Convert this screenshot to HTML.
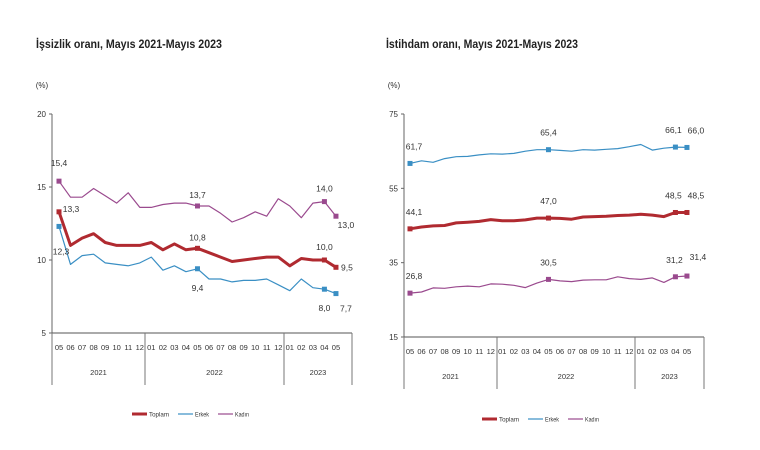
<!DOCTYPE html>
<html><head><meta charset="utf-8"><style>
html,body{margin:0;padding:0;background:#fff;width:760px;height:450px;overflow:hidden}
svg{font-family:"Liberation Sans",sans-serif}
</style></head><body>
<svg id="s" width="760" height="450" xmlns="http://www.w3.org/2000/svg"></svg>
<script>
var S=document.getElementById('s'),h='';
var C={t:'#b02a30',e:'#3a8fc4',k:'#9a4a8e'};
function txt(x,y,t,sz,anc,w,col,tl){h+='<text x="'+x+'" y="'+y+'" font-size="'+(sz||8)+'" text-anchor="'+(anc||'middle')+'"'+(w?' font-weight="bold"':'')+(tl?' textLength="'+tl+'" lengthAdjust="spacingAndGlyphs"':'')+' fill="'+(col||'#333')+'">'+t+'</text>';}
function line(a,b,c,d,col,w){h+='<line x1="'+a+'" y1="'+b+'" x2="'+c+'" y2="'+d+'" stroke="'+(col||'#555')+'" stroke-width="'+(w||1)+'"/>';}
var months=['05','06','07','08','09','10','11','12','01','02','03','04','05','06','07','08','09','10','11','12','01','02','03','04','05'];
function chart(o){
 var ax=o.ax,x0=o.x0,st=11.54;
 function Y(v){return o.yTop+(o.vTop-v)*(o.yBot-o.yTop)/(o.vTop-o.vBot);}
 function X(i){return x0+i*st;}
 txt(o.tx,48,o.title,12,'start',true,'#222',o.tl);
 txt(ax-10,88,'(%)',8,'middle');
 line(ax,o.yTop,ax,o.yBot,'#666');
 o.ticks.forEach(function(v){line(ax-3,Y(v),ax,Y(v),'#666');txt(ax-6,Y(v)+3,v,8,'end');});
 line(ax,o.yBot,o.xr,o.yBot,'#555');
 [ax,o.s1,o.s2,o.xr].forEach(function(x){line(x,o.yBot,x,o.yBot+52,'#777');});
 months.forEach(function(m,i){txt(X(i),o.yBot+17,m,7.5);});
 txt((ax+o.s1)/2,o.yBot+42,'2021',7.5);txt((o.s1+o.s2)/2,o.yBot+42,'2022',7.5);txt((o.s2+o.xr)/2,o.yBot+42,'2023',7.5);
 o.series.forEach(function(s){
  var p=s.d.map(function(v,i){return X(i).toFixed(1)+','+Y(v).toFixed(1)}).join(' ');
  h+='<polyline points="'+p+'" fill="none" stroke="'+s.c+'" stroke-width="'+s.w+'" stroke-linejoin="round"/>';
  [0,12,23,24].forEach(function(i){h+='<rect x="'+(X(i)-2.5)+'" y="'+(Y(s.d[i])-2.5)+'" width="5" height="5" fill="'+s.c+'"/>';});
  s.l.forEach(function(l){txt(X(l[0])+l[1],Y(s.d[l[0]])+l[2],l[3],8.5);});
 });
 var lx=o.lx,ly=o.ly,n=['Toplam','Erkek','Kadın'],cs=[C.t,C.e,C.k],ws=[3,1.2,1.2],off=[0,46,86],tl=[20,14,14];
 for(var i=0;i<3;i++){var a=lx+off[i];line(a,ly,a+15,ly,cs[i],ws[i]);txt(a+17,ly+2.5,n[i],6,'start',false,'#333',tl[i]);}
}
chart({title:'İşsizlik oranı, Mayıs 2021-Mayıs 2023',tx:36,tl:186,ax:52,x0:59,yTop:114,yBot:333,vTop:20,vBot:5,ticks:[20,15,10,5],s1:145,s2:284,xr:352,lx:132,ly:414,
series:[
{c:C.k,w:1.2,d:[15.4,14.3,14.3,14.9,14.4,13.9,14.6,13.6,13.6,13.8,13.9,13.9,13.7,13.7,13.2,12.6,12.9,13.3,13.0,14.2,13.7,12.9,13.9,14.0,13.0],l:[[0,0,-15,'15,4'],[12,0,-8,'13,7'],[23,0,-10,'14,0'],[24,10,12,'13,0']]},
{c:C.e,w:1.2,d:[12.3,9.7,10.3,10.4,9.8,9.7,9.6,9.8,10.2,9.3,9.6,9.2,9.4,8.7,8.7,8.5,8.6,8.6,8.7,8.3,7.9,8.7,8.1,8.0,7.7],l:[[0,2,28,'12,3'],[12,0,22,'9,4'],[23,0,22,'8,0'],[24,10,18,'7,7']]},
{c:C.t,w:3,d:[13.3,11.0,11.5,11.8,11.2,11.0,11.0,11.0,11.2,10.7,11.1,10.7,10.8,10.5,10.2,9.9,10.0,10.1,10.2,10.2,9.6,10.1,10.0,10.0,9.5],l:[[0,12,0,'13,3'],[12,0,-8,'10,8'],[23,0,-10,'10,0'],[24,11,3,'9,5']]}
]});
chart({title:'İstihdam oranı, Mayıs 2021-Mayıs 2023',tx:386,tl:192,ax:404,x0:410,yTop:114,yBot:337,vTop:75,vBot:15,ticks:[75,55,35,15],s1:497,s2:635,xr:704,lx:482,ly:419,
series:[
{c:C.e,w:1.2,d:[61.7,62.4,62.0,63.0,63.5,63.6,64.0,64.3,64.2,64.4,65.0,65.4,65.4,65.2,65.0,65.4,65.3,65.5,65.7,66.2,66.8,65.3,65.8,66.1,66.0],l:[[0,4,-14,'61,7'],[12,0,-14,'65,4'],[23,-2,-14,'66,1'],[24,9,-14,'66,0']]},
{c:C.t,w:3,d:[44.1,44.6,44.9,45.0,45.7,45.9,46.1,46.6,46.3,46.3,46.5,47.0,47.0,46.9,46.7,47.3,47.4,47.5,47.7,47.8,48.0,47.8,47.4,48.5,48.5],l:[[0,4,-14,'44,1'],[12,0,-14,'47,0'],[23,-2,-14,'48,5'],[24,9,-14,'48,5']]},
{c:C.k,w:1.2,d:[26.8,27.1,28.2,28.1,28.5,28.7,28.5,29.3,29.2,28.9,28.3,29.5,30.5,30.1,29.9,30.3,30.4,30.4,31.2,30.7,30.5,30.9,29.7,31.2,31.4],l:[[0,4,-14,'26,8'],[12,0,-14,'30,5'],[23,-1,-14,'31,2'],[24,11,-16,'31,4']]}
]});
S.innerHTML=h;
</script>
</body></html>
